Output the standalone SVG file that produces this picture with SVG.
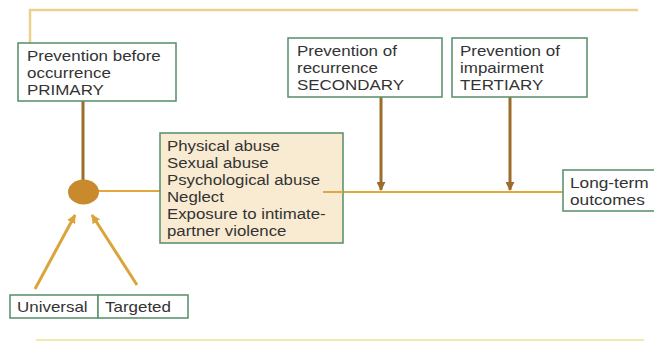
<svg xmlns="http://www.w3.org/2000/svg" width="654" height="341" viewBox="0 0 654 341">
<defs>
<style>
.box{fill:#ffffff;stroke:#5e9470;stroke-width:1.6}
.abuse{fill:#f8ebd2;stroke:#5e9470;stroke-width:1.6}
text{font-family:"Liberation Sans",Arial,sans-serif;font-size:15px;fill:#333333}
.brown{stroke:#9b6c2c;stroke-width:3;fill:none}
.orange{stroke:#e3a83c;stroke-width:2;fill:none}
.gold{stroke:#d9a43a;stroke-width:3;fill:none}
</style>
<marker id="ah" viewBox="0 0 10 10" refX="9" refY="5" markerWidth="3" markerHeight="3" orient="auto"><path d="M0,0 L10,5 L0,10 z" fill="#9b6c2c"/></marker>
<marker id="ag" viewBox="0 0 10 10" refX="9" refY="5" markerWidth="3" markerHeight="3" orient="auto"><path d="M0,0 L10,5 L0,10 z" fill="#d9a43a"/></marker>
</defs>
<rect width="654" height="341" fill="#ffffff"/>
<g id="connectors">
<polyline points="30,43 30,10 638,10" fill="none" stroke="#ecd08e" stroke-width="2.5"/>
<line x1="36" y1="340" x2="644" y2="340" stroke="#f5e7b0" stroke-width="2"/>
<line class="brown" x1="83" y1="101" x2="83" y2="182"/>
<line class="orange" x1="98" y1="191" x2="161" y2="191"/>
<line class="orange" x1="323" y1="192" x2="563" y2="192"/>
<line class="brown" x1="381" y1="97" x2="381" y2="190" marker-end="url(#ah)"/>
<line class="brown" x1="510" y1="97" x2="510" y2="190" marker-end="url(#ah)"/>
<line class="gold" x1="35" y1="289" x2="75" y2="215" marker-end="url(#ag)"/>
<line class="gold" x1="137" y1="285" x2="92" y2="215" marker-end="url(#ag)"/>
</g>
<g id="primary">
<rect class="box" x="18" y="43" width="158" height="58"/>
<g transform="translate(27,0) scale(1.13,1)">
<text x="0" y="61">Prevention before</text>
<text x="0" y="78">occurrence</text>
<text x="0" y="95">PRIMARY</text>
</g>
</g>
<g id="secondary">
<rect class="box" x="288" y="38" width="154" height="59"/>
<g transform="translate(297,0) scale(1.13,1)">
<text x="0" y="56">Prevention of</text>
<text x="0" y="73">recurrence</text>
<text x="0" y="90">SECONDARY</text>
</g>
</g>
<g id="tertiary">
<rect class="box" x="452" y="38" width="135" height="59"/>
<g transform="translate(460,0) scale(1.13,1)">
<text x="0" y="56">Prevention of</text>
<text x="0" y="73">impairment</text>
<text x="0" y="90">TERTIARY</text>
</g>
</g>
<g id="hub">
<ellipse cx="83.5" cy="192" rx="15.5" ry="12.5" fill="#c88a2c"/>
</g>
<g id="abuse">
<rect class="abuse" x="160" y="133" width="183" height="110"/>
<g transform="translate(167,0) scale(1.12,1)">
<text x="0" y="151">Physical abuse</text>
<text x="0" y="168">Sexual abuse</text>
<text x="0" y="185">Psychological abuse</text>
<text x="0" y="202">Neglect</text>
<text x="0" y="219">Exposure to intimate-</text>
<text x="0" y="236">partner violence</text>
</g>
<line class="orange" x1="323" y1="192" x2="343" y2="192"/>
</g>
<g id="longterm">
<rect class="box" x="563" y="170" width="92" height="41"/>
<g transform="translate(570,0) scale(1.15,1)">
<text x="0" y="188">Long-term</text>
<text x="0" y="205">outcomes</text>
</g>
</g>
<g id="universal">
<rect class="box" x="10" y="295" width="88" height="23"/>
<text x="17" y="312" transform="translate(17,0) scale(1.13,1) translate(-17,0)">Universal</text>
</g>
<g id="targeted">
<rect class="box" x="98" y="295" width="90" height="23"/>
<text x="105" y="312" transform="translate(105,0) scale(1.13,1) translate(-105,0)">Targeted</text>
</g>
</svg>
